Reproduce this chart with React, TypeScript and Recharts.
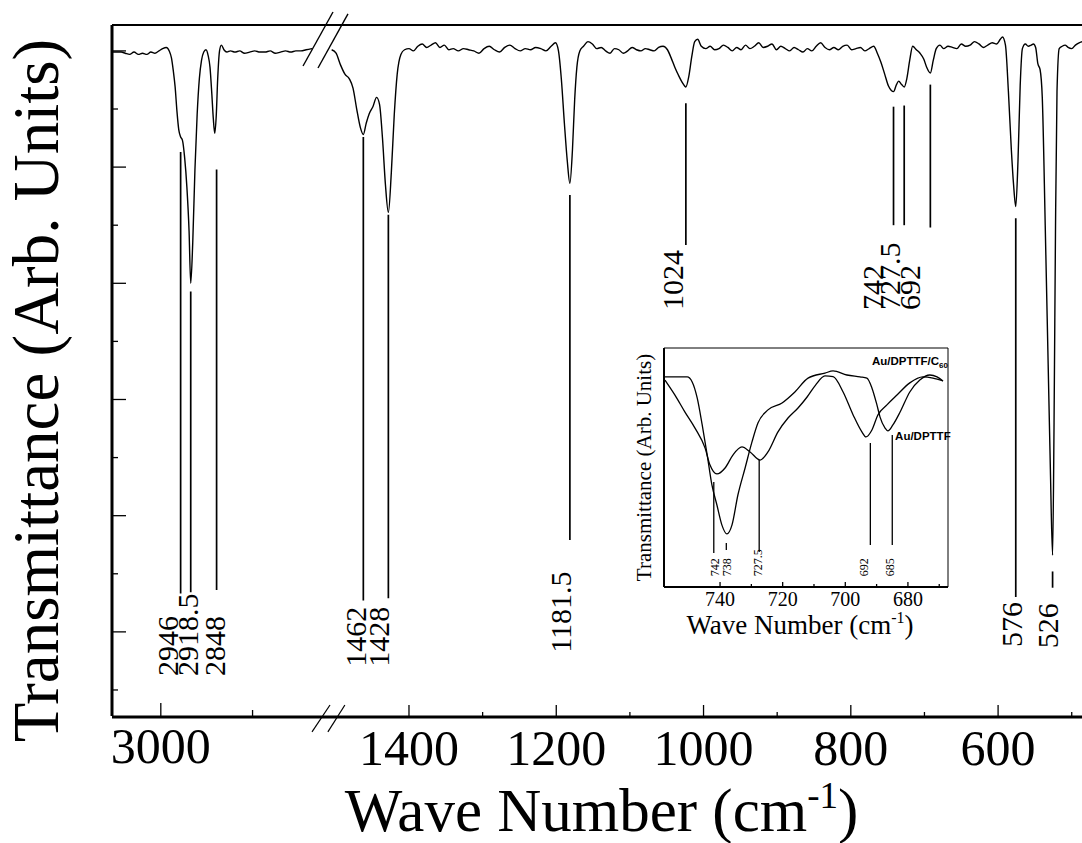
import { LineChart, Line, XAxis, YAxis, ReferenceLine, ReferenceDot } from 'recharts';

const SERIF = '"Liberation Serif", "Times New Roman", serif';
const SANS = '"Liberation Sans", Arial, sans-serif';

// main spectrum, C-H stretch region (left of the axis break)
const highWave = [
  3133, 3120, 3108, 3097, 3085, 3073, 3061, 3050, 3038, 3027, 3016, 3005, 2995, 2985, 2977,
  2971, 2966, 2961, 2956, 2951, 2946, 2941, 2935, 2929, 2923, 2918.5, 2913, 2907, 2901, 2895,
  2889, 2883, 2877, 2871, 2866, 2861, 2857, 2853, 2849, 2845, 2840, 2835, 2828, 2820, 2810,
  2798, 2785, 2772, 2758, 2744, 2730, 2716, 2702, 2688, 2674, 2660, 2646, 2632, 2618, 2604, 2588,
];
const highT = [
  59.9, 59.9, 59.9, 59.8, 59.7, 59.9, 59.7, 59.8, 59.7, 59.9, 59.8, 60.0, 60.2, 60.3, 60.0,
  59.4, 58.3, 56.9, 54.8, 53.2, 52.6, 52.3, 50.8, 48.3, 44.5, 40.0, 43.5, 49.8, 54.5, 57.6,
  59.2, 59.9, 60.1, 59.6, 58.6, 56.3, 54.2, 52.9, 54.4, 57.6, 60.0, 60.5, 60.1, 59.9, 60.0,
  59.9, 60.0, 59.8, 59.9, 60.0, 59.9, 59.9, 60.0, 59.8, 59.9, 60.0, 59.9, 60.0, 60.0, 60.1, 60.2,
];

// main spectrum, fingerprint region (right of the break)
const lowWave = [
  1505, 1499, 1493, 1487, 1481, 1476, 1471, 1466, 1462, 1458, 1454, 1449, 1444, 1440, 1436,
  1432, 1428, 1424, 1420, 1416, 1411, 1406, 1400, 1394, 1388, 1382, 1376, 1370, 1364, 1358,
  1352, 1346, 1340, 1333, 1326, 1319, 1312, 1305, 1298, 1291, 1284, 1277, 1270, 1263, 1256,
  1249, 1242, 1235, 1228, 1221, 1214, 1207, 1201, 1197, 1193, 1189, 1185, 1181.5, 1178, 1175,
  1172, 1168, 1163, 1157, 1151, 1145, 1139, 1133, 1127, 1121, 1115, 1109, 1103, 1097, 1091,
  1085, 1079, 1073, 1067, 1061, 1055, 1049, 1044, 1039, 1034, 1029, 1024, 1020, 1016, 1012,
  1008, 1003, 997, 991, 985, 979, 973, 967, 961, 955, 949, 943, 937, 931, 925,
  919, 913, 907, 901, 895, 889, 883, 877, 871, 865, 859, 853, 847, 841, 835,
  829, 823, 817, 811, 805, 799, 793, 787, 781, 775, 769, 764, 759, 754, 749,
  745, 742, 738, 735, 731, 727.5, 724, 720, 716, 711, 706, 701, 697, 692, 688,
  684, 679, 674, 668, 662, 656, 650, 644, 638, 632, 626, 620, 614, 608, 602,
  597, 594, 590, 586, 582, 579, 576, 573, 570, 567, 563, 559, 555, 552, 549,
  546, 543, 540, 536, 532, 529, 526, 524, 522, 520, 517, 513, 509, 505, 500,
  495, 490, 485, 480, 475, 470,
];
const lowT = [
  60.1, 59.8, 58.8, 58.0, 57.6, 56.8, 55.0, 53.4, 52.8, 53.8, 54.6, 55.2, 56.0, 55.4, 52.5,
  48.5, 46.1, 49.5, 54.5, 58.0, 59.7, 60.1, 60.2, 60.0, 60.4, 60.6, 60.3, 60.5, 60.7, 60.3,
  60.5, 60.1, 60.2, 60.0, 60.2, 60.1, 60.0, 59.8, 60.2, 60.4, 60.1, 59.9, 60.3, 60.5, 60.2,
  60.0, 60.2, 60.1, 60.3, 60.2, 60.0, 60.4, 60.7, 60.0, 57.5, 53.8, 50.5, 48.6, 51.5, 55.8,
  58.6, 60.0, 60.4, 60.8, 60.6, 60.2, 60.3, 60.0, 59.8, 60.2, 60.1, 59.8, 60.0, 60.3, 60.1,
  60.0, 60.2, 60.1, 60.0, 60.3, 60.4, 60.1, 59.4, 58.6, 57.9, 57.3, 56.9, 57.8, 59.5, 60.8,
  61.0, 60.4, 60.2, 60.4, 60.1, 60.2, 60.5, 60.3, 60.0, 60.3, 60.1, 60.5, 60.2, 60.4, 60.7,
  60.3, 60.4, 60.6, 60.1, 60.4, 60.2, 60.0, 60.3, 60.1, 59.9, 60.2, 60.0, 60.4, 60.7, 60.3,
  60.1, 60.3, 60.1, 60.4, 60.5, 60.1, 60.2, 60.3, 60.0, 60.2, 60.4, 59.8, 59.0, 58.0, 57.0,
  56.6, 56.5, 57.1, 57.4, 57.1, 56.9, 57.6, 59.2, 60.4, 60.1, 59.8, 59.3, 58.6, 58.1, 59.2,
  60.2, 60.5, 60.2, 60.4, 60.3, 60.2, 60.6, 60.4, 60.5, 60.8, 60.6, 60.3, 60.5, 60.7, 60.6,
  61.0, 61.2, 60.5, 56.5, 51.5, 48.5, 46.6, 50.5, 57.0, 60.2, 60.6, 60.4, 60.5, 60.6, 60.3,
  58.9, 58.4, 56.0, 45.0, 33.0, 24.0, 16.6, 28.0, 45.0, 56.5, 60.2, 60.4, 60.5, 60.3, 60.2,
  60.5, 60.7, 60.8, 60.6, 60.5, 60.4,
];

const highTicks = [3000, 2750];
const highMajor = [3000];
const lowTicks = [1400, 1300, 1200, 1100, 1000, 900, 800, 700, 600, 500];
const lowMajor = [1400, 1200, 1000, 800, 600];
const yTicks = [5, 10, 15, 20, 25, 30, 35, 40, 45, 50, 55, 60];
const Y_MIN = 2.76;
const Y_MAX = 62.23;
const HI_DOMAIN = [454.5, 3133];
const LO_DOMAIN = [468.4, 1803.3];

// assigned bands: marker line ends and label start, in transmittance units
const highPeakWave = [2946, 2918.5, 2848];
const highMarkTop = [51.3, 39.3, 49.8];
const highMarkBottom = [13.3, 13.4, 13.6];
const highLabelAt = [6.2, 6.2, 6.2];
const highLabelShift = [-3, 7, 8];

const lowPeakWave = [1462, 1428, 1181.5, 1024, 742, 727.5, 692, 576, 526];
const lowMarkTop = [52.6, 45.9, 47.6, 55.5, 55.2, 55.3, 57.1, 45.6, 15.2];
const lowMarkBottom = [12.7, 12.9, 17.9, 43.3, 45.0, 45.0, 44.8, 13.0, 13.8];
const lowLabelAt = [7.0, 7.0, 8.2, 37.7, 37.7, 37.7, 37.7, 8.7, 8.6];
const lowLabelShift = [3, 1, 1, -3, -11, -4, -10, 6, 5];

// inset: 760-665 cm-1 detail of both films
const dptWave = [
  757.6, 754.5, 750.5, 748.9, 747.3, 745.7, 744.1, 742.6, 741.0, 739.4, 737.8, 736.2, 734.3,
  732.0, 729.8, 727.9, 724.7, 720.2, 716.1, 711.9, 706.5, 703.9, 699.5, 695.3, 693.1, 691.5,
  689.9, 688.9, 687.3, 686.4, 684.8, 682.5, 679.4, 676.2, 673.0, 670.7, 668.8,
];
const dptT = [
  87.9, 87.9, 87.9, 85.8, 79.1, 67.8, 55.2, 42.7, 34.3, 25.9, 22.2, 25.9, 38.5,
  49.8, 60.7, 68.6, 74.1, 77.0, 81.6, 87.4, 89.5, 90.4, 88.7, 87.9, 87.4, 83.3,
  76.2, 71.1, 66.5, 65.3, 67.8, 73.2, 81.6, 86.6, 88.7, 87.9, 86.2,
];
const c60Wave = [
  757.6, 754.4, 751.2, 748.0, 744.8, 743.2, 741.0, 738.4, 735.9, 733.0, 730.4, 727.2, 724.7,
  721.5, 718.3, 715.1, 712.2, 709.5, 706.5, 703.9, 700.7, 697.5, 694.7, 693.4, 691.5, 689.6,
  686.7, 683.5, 679.4, 675.2, 672.0, 668.8,
];
const c60T = [
  86.6, 80.3, 73.2, 66.5, 58.2, 51.0, 47.3, 49.8, 55.2, 58.6, 56.5, 53.1, 56.5,
  64.9, 70.7, 74.9, 79.5, 84.5, 88.3, 88.0, 81.6, 72.0, 64.9, 62.8, 65.7, 72.0,
  76.2, 80.3, 85.4, 87.9, 87.4, 86.2,
];
const insetTicks = [740, 730, 720, 710, 700, 690, 680, 670];
const insetMajor = [740, 720, 700, 680];
const INSET_X = [667.2, 757.9];
const insetPeakWave = [742, 738, 727.5, 692, 685];
const insetMarkTop = [43.9, 18.4, 53.1, 60.3, 63.6];
const insetMarkBottom = [14.2, 15.5, 14.6, 17.6, 17.6];
const insetLabelAt = 4.5;
const insetLabelShift = [5, 5, 3, -2, 2];

const highData = highWave.map((w, i) => ({ w, t: highT[i] }));
const lowData = lowWave.map((w, i) => ({ w, t: lowT[i] }));
const dptData = dptWave.map((w, i) => ({ w, t: dptT[i] }));
const c60Data = c60Wave.map((w, i) => ({ w, t: c60T[i] }));

const serif = { fontFamily: SERIF };

const peakLabel = (text: string, shift: number, size: number) => (p: any) => {
  const x = p.viewBox.x + shift;
  const y = p.viewBox.y;
  return (
    <text x={x} y={y} transform={`rotate(-90 ${x} ${y})`} style={serif} fontSize={size} fill="#000">
      {text}
    </text>
  );
};

const xTick = (major: number[], big: number, small: number, labelDy: number, size: number) => (p: any) => {
  const v = p.payload.value;
  const isMajor = major.includes(v);
  return (
    <g>
      <line x1={p.x} y1={p.y} x2={p.x} y2={p.y - (isMajor ? big : small)} stroke="#000" strokeWidth={1.3} />
      {isMajor && (
        <text x={p.x} y={p.y + labelDy} textAnchor="middle" style={serif} fontSize={size} fill="#000">
          {v}
        </text>
      )}
    </g>
  );
};

const yTick = (p: any) => {
  const v = p.payload.value;
  const len = v % 10 === 0 ? 14 : 6;
  return <line x1={p.x} y1={p.y} x2={p.x + len} y2={p.y} stroke="#000" strokeWidth={1.3} />;
};

const mainXTitle = (p: any) => {
  const vb = p.viewBox;
  return (
    <text x={vb.x + vb.width / 2 - 2} y={vb.y + 113.8} textAnchor="middle" style={serif} fontSize={61} fill="#000">
      Wave Number (cm<tspan dy={-23} fontSize={37}>-1</tspan>
      <tspan dy={23}>)</tspan>
    </text>
  );
};

const mainYTitle = (p: any) => {
  const vb = p.viewBox;
  const x = vb.x + vb.width - 54;
  const y = vb.y + vb.height / 2 + 20;
  return (
    <text x={x} y={y} transform={`rotate(-90 ${x} ${y})`} textAnchor="middle" style={serif} fontSize={65} fill="#000">
      Transmittance (Arb. Units)
    </text>
  );
};

const insetXTitle = (p: any) => {
  const vb = p.viewBox;
  return (
    <text x={vb.x + vb.width / 2 - 6} y={vb.y + 47} textAnchor="middle" style={serif} fontSize={27} fill="#000">
      Wave Number (cm<tspan dy={-11} fontSize={16}>-1</tspan>
      <tspan dy={11}>)</tspan>
    </text>
  );
};

const insetYTitle = (p: any) => {
  const vb = p.viewBox;
  const x = vb.x + vb.width - 13;
  const y = vb.y + vb.height / 2;
  return (
    <text x={x} y={y} transform={`rotate(-90 ${x} ${y})`} textAnchor="middle" style={serif} fontSize={21} fill="#000">
      Transmittance (Arb. Units)
    </text>
  );
};

const seriesName = (text: string, sub?: string) => (p: any) => (
  <text x={p.viewBox.x} y={p.viewBox.y} style={{ fontFamily: SANS }} fontWeight="bold" fontSize={11.5} fill="#000">
    {text}
    {sub && (
      <tspan dy={3} fontSize={8}>
        {sub}
      </tspan>
    )}
  </text>
);

function Inset() {
  return (
    <LineChart width={370} height={320} margin={{ top: 18, right: 22, bottom: 62, left: 63 }}>
      <XAxis
        type="number"
        dataKey="w"
        domain={INSET_X}
        reversed
        allowDataOverflow
        ticks={insetTicks}
        interval={0}
        tick={xTick(insetMajor, 5, 3, 19, 20)}
        tickLine={false}
        tickSize={0}
        tickMargin={0}
        height={1}
        axisLine={{ stroke: '#000', strokeWidth: 2 }}
        label={insetXTitle}
      />
      <YAxis
        type="number"
        domain={[0, 100]}
        allowDataOverflow
        ticks={[50]}
        tick={() => <g />}
        tickLine={false}
        width={1}
        axisLine={{ stroke: '#000', strokeWidth: 2 }}
        label={insetYTitle}
      />
      <ReferenceLine y={100} stroke="#000" strokeWidth={1} ifOverflow="visible" />
      <ReferenceLine x={INSET_X[0]} stroke="#000" strokeWidth={1} ifOverflow="visible" />
      <Line data={dptData} dataKey="t" type="monotone" dot={false} stroke="#000" strokeWidth={1.3} isAnimationActive={false} />
      <Line data={c60Data} dataKey="t" type="monotone" dot={false} stroke="#000" strokeWidth={1.3} isAnimationActive={false} />
      {insetPeakWave.map((w, i) => (
        <ReferenceLine
          key={`im${i}`}
          segment={[{ x: w, y: insetMarkTop[i] }, { x: w, y: insetMarkBottom[i] }]}
          stroke="#000"
          strokeWidth={1.3}
        />
      ))}
      {insetPeakWave.map((w, i) => (
        <ReferenceDot
          key={`il${i}`}
          x={w}
          y={insetLabelAt}
          r={0}
          fill="none"
          stroke="none"
          label={peakLabel(String(w), insetLabelShift[i], 12)}
        />
      ))}
      <ReferenceDot x={691.5} y={92.9} r={0} fill="none" stroke="none" label={seriesName('Au/DPTTF/C', '60')} />
      <ReferenceDot x={684.1} y={61.5} r={0} fill="none" stroke="none" label={seriesName('Au/DPTTF')} />
    </LineChart>
  );
}

export default function App() {
  return (
    <div style={{ position: 'absolute', left: 0, top: 0, width: 1082, height: 843, overflow: 'hidden', background: '#fff' }}>
      <LineChart width={1110} height={843} margin={{ top: 25, right: 15, bottom: 125, left: 111 }}>
        <XAxis
          xAxisId="lo"
          type="number"
          dataKey="w"
          domain={LO_DOMAIN}
          reversed
          allowDataOverflow
          ticks={lowTicks}
          interval={0}
          tick={xTick(lowMajor, 12, 5, 48, 50)}
          tickLine={false}
          tickSize={0}
          tickMargin={0}
          height={1}
          axisLine={{ stroke: '#000', strokeWidth: 3 }}
          label={mainXTitle}
        />
        <XAxis
          xAxisId="hi"
          type="number"
          dataKey="w"
          domain={HI_DOMAIN}
          reversed
          allowDataOverflow
          ticks={highTicks}
          interval={0}
          tick={xTick(highMajor, 13, 6, 47, 50)}
          tickLine={false}
          tickSize={0}
          tickMargin={0}
          height={1}
          axisLine={false}
        />
        <YAxis
          type="number"
          domain={[Y_MIN, Y_MAX]}
          allowDataOverflow
          ticks={yTicks}
          interval={0}
          tick={yTick}
          tickLine={false}
          tickSize={0}
          tickMargin={0}
          width={1}
          axisLine={{ stroke: '#000', strokeWidth: 3 }}
          label={mainYTitle}
        />
        <ReferenceLine xAxisId="lo" y={Y_MAX} stroke="#000" strokeWidth={2} ifOverflow="visible" />

        {/* axis break marks */}
        <ReferenceLine xAxisId="hi" segment={[{ x: 2612.5, y: 58.7 }, { x: 2530.8, y: 63.35 }]} stroke="#000" strokeWidth={1.4} ifOverflow="visible" />
        <ReferenceLine xAxisId="hi" segment={[{ x: 2571.7, y: 58.53 }, { x: 2490, y: 63.18 }]} stroke="#000" strokeWidth={1.4} ifOverflow="visible" />
        <ReferenceLine xAxisId="hi" segment={[{ x: 2588, y: 1.39 }, { x: 2539, y: 3.71 }]} stroke="#000" strokeWidth={1.2} ifOverflow="visible" />
        <ReferenceLine xAxisId="hi" segment={[{ x: 2544.7, y: 1.39 }, { x: 2498.4, y: 3.71 }]} stroke="#000" strokeWidth={1.2} ifOverflow="visible" />

        <Line xAxisId="hi" data={highData} dataKey="t" type="monotone" dot={false} stroke="#000" strokeWidth={1.4} isAnimationActive={false} />
        <Line xAxisId="lo" data={lowData} dataKey="t" type="monotone" dot={false} stroke="#000" strokeWidth={1.4} isAnimationActive={false} />

        {highPeakWave.map((w, i) => (
          <ReferenceLine
            key={`hm${i}`}
            xAxisId="hi"
            segment={[{ x: w, y: highMarkTop[i] }, { x: w, y: highMarkBottom[i] }]}
            stroke="#000"
            strokeWidth={1.7}
          />
        ))}
        {highPeakWave.map((w, i) => (
          <ReferenceDot
            key={`hl${i}`}
            xAxisId="hi"
            x={w}
            y={highLabelAt[i]}
            r={0}
            fill="none"
            stroke="none"
            label={peakLabel(String(w), highLabelShift[i], 30)}
          />
        ))}
        {lowPeakWave.map((w, i) => (
          <ReferenceLine
            key={`lm${i}`}
            xAxisId="lo"
            segment={[{ x: w, y: lowMarkTop[i] }, { x: w, y: lowMarkBottom[i] }]}
            stroke="#000"
            strokeWidth={1.7}
          />
        ))}
        {lowPeakWave.map((w, i) => (
          <ReferenceDot
            key={`ll${i}`}
            xAxisId="lo"
            x={w}
            y={lowLabelAt[i]}
            r={0}
            fill="none"
            stroke="none"
            label={peakLabel(String(w), lowLabelShift[i], 30)}
          />
        ))}
      </LineChart>
      <div style={{ position: 'absolute', left: 600, top: 330, width: 370, height: 320 }}>
        <Inset />
      </div>
    </div>
  );
}
